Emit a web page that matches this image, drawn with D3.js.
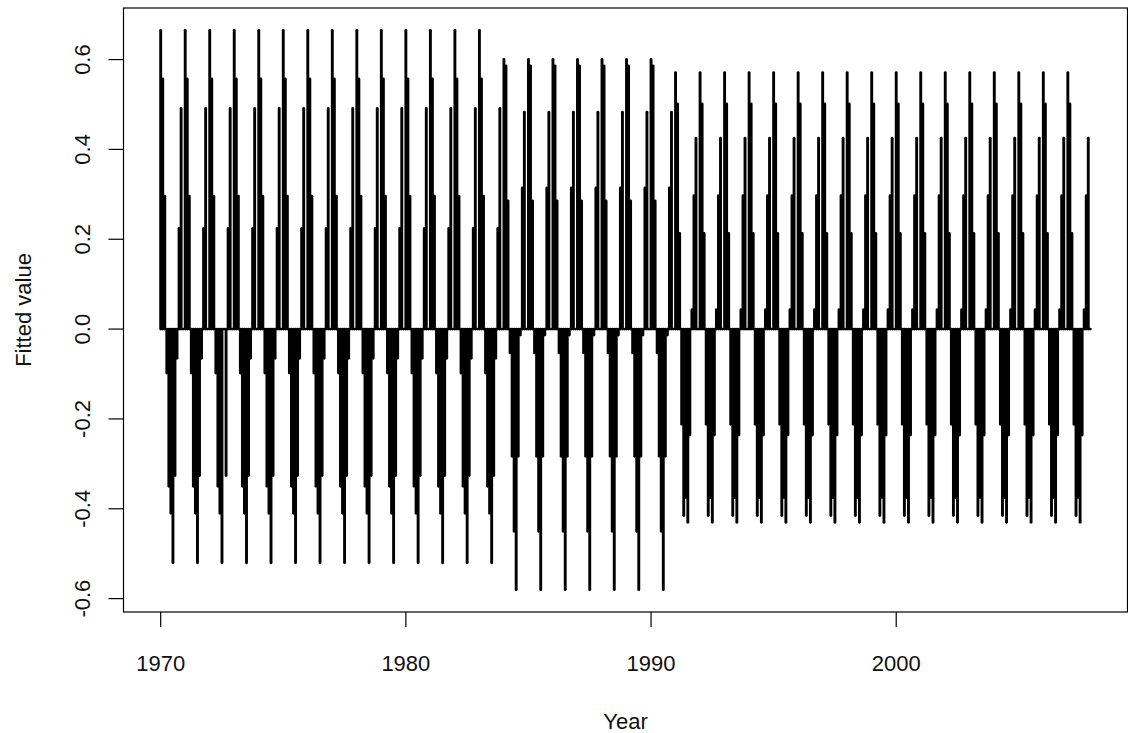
<!DOCTYPE html>
<html><head><meta charset="utf-8">
<script src="https://cdn.jsdelivr.net/npm/d3@7"></script>
<style>body{margin:0;background:#fff}svg{display:block}</style>
</head><body>
<svg id="chart" width="1128" height="733"></svg>
<script>
// ---- data ----
const monthNames = ["Jan","Feb","Mar","Apr","May","Jun","Jul","Aug","Sep","Oct","Nov","Dec"];
const seasonA = [0.665, 0.557, 0.296, -0.098, -0.350, -0.410, -0.520, -0.326, -0.065, 0.224, 0.491, 0.0];
const seasonB = [0.600, 0.586, 0.285, -0.053, -0.283, -0.450, -0.580, -0.283, -0.013, 0.314, 0.483, 0.0];
const seasonC = [0.571, 0.501, 0.213, -0.212, -0.415, -0.375, -0.430, -0.236, 0.043, 0.297, 0.425, 0.0];
const periodStart = [1970, 1984, 1991];
const periodEnd   = [1983, 1990, 2007];
const overrideYear  = [1972, 1972];
const overrideMonth = [8, 9];
const overrideValue = [0.0, -0.326];
const xTickValues = [1970, 1980, 1990, 2000];
const yTickValues = [-0.6, -0.4, -0.2, 0.0, 0.2, 0.4, 0.6];
const xTitle = "Year";
const yTitle = "Fitted value";

// ---- build series ----
const seasons = [seasonA, seasonB, seasonC];
const series = [];
seasons.forEach((s, p) => {
  for (let yr = periodStart[p]; yr <= periodEnd[p]; yr++) {
    s.forEach((v, m) => {
      let val = v;
      overrideYear.forEach((oy, i) => { if (oy === yr && overrideMonth[i] === m + 1) val = overrideValue[i]; });
      series.push({ t: yr + m / 12, v: val });
    });
  }
});

// ---- layout ----
const W = 1128, H = 733;
const plot = { left: 123.5, right: 1127.5, top: 8, bottom: 612 };
const font = "'Liberation Sans', Arial, sans-serif";

const tExt = d3.extent(series, d => d.t);
const tPad = 0.04 * (tExt[1] - tExt[0]);
const vExt = d3.extent(series, d => d.v);
const vPad = 0.04 * (vExt[1] - vExt[0]);

const x = d3.scaleLinear().domain([tExt[0] - tPad, tExt[1] + tPad]).range([plot.left, plot.right]);
const y = d3.scaleLinear().domain([vExt[0] - vPad, vExt[1] + vPad]).range([plot.bottom, plot.top]);

const svg = d3.select("#chart");
svg.append("rect").attr("width", W).attr("height", H).attr("fill", "#fff");

// data lines (type = "h")
svg.append("g").selectAll("line").data(series).join("line")
  .attr("x1", d => x(d.t)).attr("x2", d => x(d.t))
  .attr("y1", y(0)).attr("y2", d => y(d.v))
  .attr("stroke", "#000").attr("stroke-width", 2.9).attr("stroke-linecap", "round");

// box
svg.append("rect")
  .attr("x", plot.left).attr("y", plot.top)
  .attr("width", plot.right - plot.left).attr("height", plot.bottom - plot.top)
  .attr("fill", "none").attr("stroke", "#000").attr("stroke-width", 1.2);

const fmtY = v => d3.format(".1f")(v).replace("\u2212", "-");

// x axis
const xa = svg.append("g");
xa.selectAll("line").data(xTickValues).join("line")
  .attr("x1", d => x(d)).attr("x2", d => x(d))
  .attr("y1", plot.bottom).attr("y2", plot.bottom + 15)
  .attr("stroke", "#000").attr("stroke-width", 1.2);
xa.selectAll("text").data(xTickValues).join("text")
  .attr("x", d => x(d)).attr("y", 671)
  .attr("text-anchor", "middle").attr("font-family", font).attr("font-size", 22)
  .attr("fill", "#111").text(d => d3.format("d")(d));

// y axis
const ya = svg.append("g");
ya.selectAll("line").data(yTickValues).join("line")
  .attr("x1", plot.left).attr("x2", plot.left - 15)
  .attr("y1", d => y(d)).attr("y2", d => y(d))
  .attr("stroke", "#000").attr("stroke-width", 1.2);
ya.selectAll("text").data(yTickValues).join("text")
  .attr("transform", d => `translate(90,${y(d)}) rotate(-90)`)
  .attr("text-anchor", "middle").attr("font-family", font).attr("font-size", 22)
  .attr("fill", "#111").text(d => fmtY(d));

// titles
svg.append("text").attr("x", (plot.left + plot.right) / 2).attr("y", 729)
  .attr("text-anchor", "middle").attr("font-family", font).attr("font-size", 22)
  .attr("fill", "#111").text(xTitle);
svg.append("text").attr("transform", `translate(31,${(plot.top + plot.bottom) / 2}) rotate(-90)`)
  .attr("text-anchor", "middle").attr("font-family", font).attr("font-size", 22)
  .attr("fill", "#111").text(yTitle);
</script>
</body></html>
